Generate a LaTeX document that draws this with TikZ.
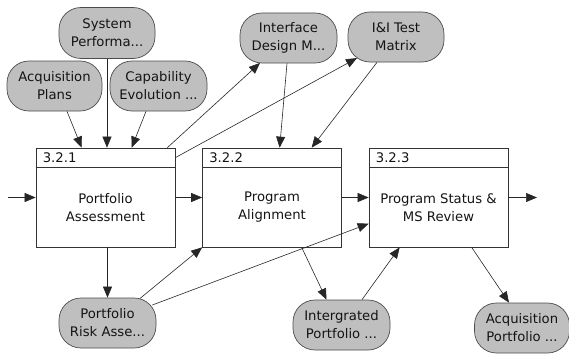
\documentclass[tikz,border=0pt]{standalone}
\usepackage{fontspec}
\setmainfont{DejaVu Sans}
\usetikzlibrary{arrows.meta,calc}
\begin{document}
\begin{tikzpicture}[x=1pt,y=-1pt,
  every node/.style={font=\fontsize{13.2}{18}\selectfont, text=black!92},
  actbox/.style={draw=black!80, line width=0.7pt, fill=white, rectangle,
    minimum width=139pt, minimum height=99pt, inner sep=0pt},
  dataitem/.style={draw=black!70, line width=0.7pt, fill=black!25, rectangle,
    rounded corners=22pt, minimum width=96pt, minimum height=50pt,
    inner sep=0pt, align=center},
  boxtext/.style={align=center, inner sep=0pt},
  hdr/.style={anchor=west, inner sep=0pt},
  arr/.style={draw=black!85, line width=0.6pt,
    -{Triangle[length=11pt,width=9pt]}}
]
\useasboundingbox (0,0) rectangle (569,353);

% activity boxes
\node[actbox] (b1) at (105.5,197.5) {};
\node[actbox] (b2) at (272,197.5) {};
\node[actbox] (b3) at (438.5,197.5) {};
\foreach \b/\t/\u in {b1/3.2.1/Portfolio\\Assessment,
                      b2/3.2.2/Program\\Alignment,
                      b3/3.2.3/Program Status \&\\MS Review}{
  \draw[draw=black!80, line width=0.7pt]
    ($(\b.north west)+(0,20)$) -- ($(\b.north east)+(0,20)$);
  \node[hdr] (\b h) at ($(\b.north west)+(7,10.5)$) {\t};
  \node[boxtext] (\b t) at ($(\b.center)+(0,10)$) {\u};
}

% data items
\node[dataitem] (sys) at (107,33) [minimum height=51pt] {System\\Performa...};
\node[dataitem] (acq) at (54.5,86) [minimum width=95pt] {Acquisition\\Plans};
\node[dataitem] (cap) at (158.5,86) [minimum width=97pt] {Capability\\Evolution ...};
\node[dataitem] (ifc) at (288.5,38) [minimum width=97pt] {Interface\\Design M...};
\node[dataitem] (iit) at (396,37) {I\&I Test\\Matrix};
\node[dataitem] (pra) at (107.5,323) [minimum width=97pt] {Portfolio\\Risk Asse...};
\node[dataitem] (ipf) at (341.5,325) [minimum width=97pt] {Intergrated\\Portfolio ...};
\node[dataitem] (apf) at (522,328) [minimum width=95pt] {Acquisition\\Portfolio ...};

% free ends of the main flow
\coordinate (inL) at (8,197.5);
\coordinate (outR) at (537,197.5);

% main flow
\draw[arr] (inL) -- (b1.west);
\draw[arr] (b1.east) -- (b2.west);
\draw[arr] (b2.east) -- (b3.west);
\draw[arr] (b3.east) -- (outR);

% inputs to 3.2.1
\draw[arr] ($(acq.south)+(12.5,0)$) -- ($(b1.north west)+(46,0)$);
\draw[arr] (sys.south) -- (sys.south |- b1.north);
\draw[arr] ($(cap.south)+(-12.5,0)$) -- ($(b1.north west)+(96,0)$);

% outputs of 3.2.1
\draw[arr] ($(b1.north east)+(-8,0)$) -- ($(ifc.south)+(-28.5,-0.4)$);
\draw[arr] ($(b1.north east)+(0,10)$) -- ($(iit.south)+(-39,-4.3)$);
\draw[arr] (b1.south -| pra.north) -- (pra.north);

% inputs to 3.2.2
\draw[arr] ($(ifc.south)+(-1.5,0)$) -- ($(b2.north west)+(77.5,0)$);
\draw[arr] ($(iit.south)+(-19,0)$) -- ($(b2.north west)+(109.5,0)$);
\draw[arr] ($(pra.north)+(32.5,0.8)$) -- (b2.south west);

% 3.2.2 output and inputs to 3.2.3
\draw[arr] ($(b2.south west)+(99.5,0)$) -- ($(ipf.north)+(-15,0)$);
\draw[arr] ($(pra.east)+(-4,-18)$) -- ($(b3.north west)+(0,76)$);
\draw[arr] ($(ipf.north)+(20.5,0)$) -- ($(b3.south west)+(31,0)$);

% 3.2.3 output
\draw[arr] ($(b3.south west)+(103,0)$) -- ($(apf.north)+(-13,0)$);
\end{tikzpicture}
\end{document}
